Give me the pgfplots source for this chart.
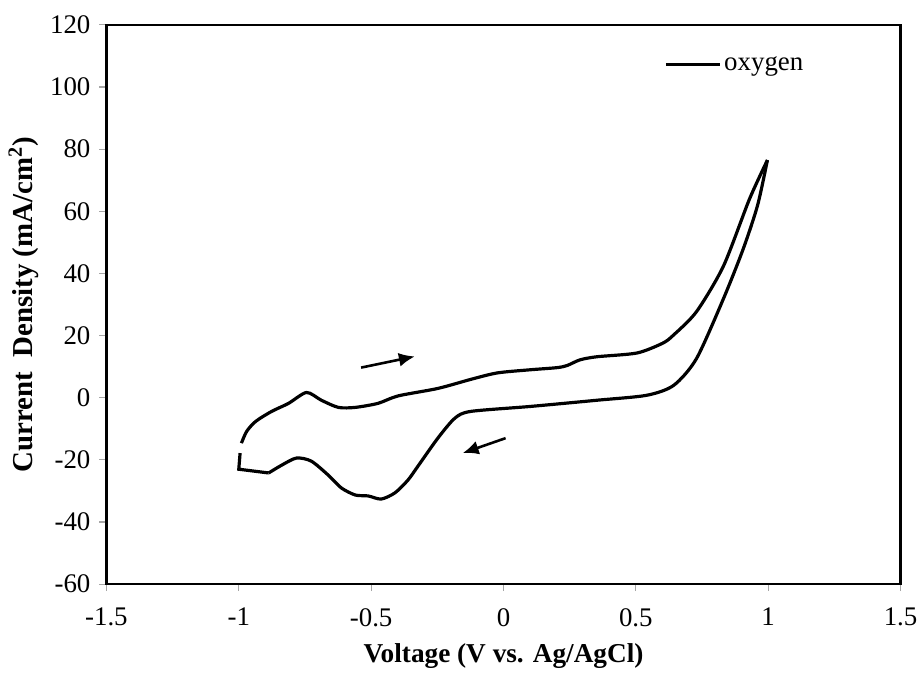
\documentclass[border=0pt]{standalone}
\usepackage{pgfplots}
\pgfplotsset{compat=1.18}
\usepackage{fontspec}
\setmainfont{Liberation Serif}
\usetikzlibrary{arrows.meta}

% Cyclic voltammogram: anodic (forward) and cathodic (reverse) branches
\pgfplotstableread{
x y
-0.990 -14.6
-0.970 -10.8
-0.936 -7.6
-0.876 -4.4
-0.812 -1.8
-0.744 1.7
-0.688 -0.8
-0.624 -3.1
-0.560 -3.1
-0.474 -1.8
-0.398 0.6
-0.248 3.0
-0.120 6.0
-0.023 8.0
0.100 9.0
0.203 9.7
0.241 10.4
0.289 12.2
0.353 13.2
0.504 14.4
0.600 17.5
0.640 20.0
0.729 27.7
0.831 42.4
0.929 63.9
0.997 76.5
}\forward

\pgfplotstableread{
x y
0.997 76.5
0.960 62.0
0.906 48.0
0.831 31.9
0.729 12.6
0.643 4.0
0.541 0.8
0.353 -0.8
0.101 -2.8
-0.124 -4.4
-0.184 -6.6
-0.248 -13.0
-0.323 -22.0
-0.361 -26.5
-0.410 -30.6
-0.462 -32.6
-0.511 -31.6
-0.560 -31.3
-0.613 -29.0
-0.662 -24.9
-0.726 -20.4
-0.782 -19.4
-0.838 -21.7
-0.887 -24.2
}\reverse

\pgfplotstableread{
x y
-0.887 -24.2
-1.000 -23.0
-0.995 -17.8
}\tail

\begin{document}
\begin{tikzpicture}
\begin{axis}[
  scale only axis,
  width=399pt, height=281pt,
  xmin=-1.5, xmax=1.5, ymin=-60, ymax=120,
  xtick={-1.5,-1,...,1.5}, ytick={-60,-40,...,120},
  xtick pos=bottom, ytick pos=left,
  tick align=outside,
  major tick length=3.5pt,
  tick style={gray!70, line width=0.6pt},
  axis line style={black, line width=1.2pt},
  /pgf/number format/assume math mode=true,
  /pgf/number format/.cd, fixed, use period, 1000 sep={},
  /pgfplots/.cd,
  ticklabel style={font=\fontsize{13.5}{15}\selectfont},
  xticklabel style={yshift=-5pt},
  yticklabel style={xshift=-1pt},
  xlabel={\textbf{Voltage (V vs. Ag/AgCl)}},
  ylabel={\textbf{Current\ \ Density (mA/cm\textsuperscript{2})}},
  xlabel style={font=\fontsize{13.7}{15}\selectfont, yshift=-2pt},
  ylabel style={font=\fontsize{14.5}{16}\selectfont, yshift=-1pt},
  clip=false,
  legend style={at={(rel axis cs:0.702,0.929)}, anchor=west,
    draw=none, fill=none, font=\fontsize{13.5}{15}\selectfont,
    inner sep=0pt, nodes={inner sep=1.5pt}},
  legend image code/.code={\draw[line width=1.6pt] (0pt,0pt) -- (27pt,0pt);},
]
\addplot[black, line width=1.6pt, smooth, tension=0.45] table[x=x,y=y] {\forward};
\addlegendentry{oxygen}
\addplot[black, line width=1.6pt, smooth, tension=0.45, forget plot] table[x=x,y=y] {\reverse};
\addplot[black, line width=1.6pt, line join=miter, forget plot] table[x=x,y=y] {\tail};

% scan-direction arrows
\draw[line width=1.3pt, -{Latex[length=8pt,width=7pt]}] (axis cs:-0.538,9.7) -- (axis cs:-0.335,13.3);
\draw[line width=1.3pt, -{Latex[length=8pt,width=7pt]}] (axis cs:0.008,-13.0) -- (axis cs:-0.154,-17.8);

\coordinate (bbl) at (rel axis cs:-0.134,-0.1495);
\coordinate (btr) at (rel axis cs:1.0238,1.0445);
\end{axis}
\useasboundingbox (bbl) rectangle (btr);
\end{tikzpicture}
\end{document}
